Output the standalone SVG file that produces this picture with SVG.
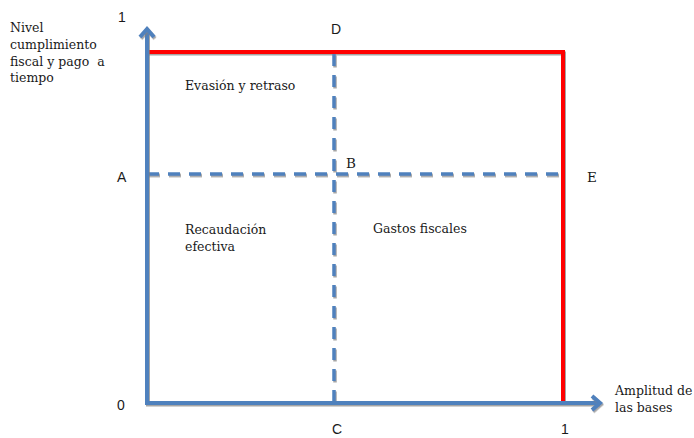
<svg xmlns="http://www.w3.org/2000/svg" width="694" height="438" viewBox="0 0 694 438">
  <defs>
    <filter id="sh" filterUnits="userSpaceOnUse" x="0" y="0" width="694" height="438">
      <feDropShadow dx="1" dy="1.5" stdDeviation="0.4" flood-color="#7f7f7f" flood-opacity="0.7"/>
    </filter>
  </defs>
  <style>
    .lbl { font-family: "DejaVu Serif", "Liberation Serif", serif; font-size: 12.5px; fill: #1a1a1a; }
    .ltr { font-family: "DejaVu Serif", "Liberation Serif", serif; font-size: 13.5px; fill: #1a1a1a; }
    .num { font-family: "Liberation Sans", "Open Sans", sans-serif; font-size: 14px; fill: #1a1a1a; }
    .axis { fill: none; stroke: #4F81BD; stroke-width: 4; stroke-linejoin: miter; filter: url(#sh); }
    .dash { fill: none; stroke: #4F81BD; stroke-width: 3.5; stroke-dasharray: 12 9; filter: url(#sh); }
    .frontier { fill: none; stroke: #FF0000; stroke-width: 4; filter: url(#sh); }
  </style>
  <rect width="694" height="438" fill="#ffffff"/>

  <g id="connectors">
    <path id="frontier" class="frontier" d="M147,52 H563 V403"/>
    <line id="dash-vertical" class="dash" x1="334" y1="54" x2="334" y2="403"/>
    <line id="dash-horizontal" class="dash" x1="147" y1="174" x2="563" y2="174"/>
    <g id="y-axis">
      <line class="axis" x1="147" y1="403" x2="147" y2="30"/>
      <polyline class="axis" points="140,37 147,29 154,37"/>
    </g>
    <g id="x-axis">
      <line class="axis" x1="145" y1="403" x2="599" y2="403"/>
      <polyline class="axis" points="592,396 600,403 592,410"/>
    </g>
  </g>

  <g id="y-axis-title">
    <text class="lbl" x="10" y="32">Nivel</text>
    <text class="lbl" x="10" y="49">cumplimiento</text>
    <text class="lbl" x="10" y="66" xml:space="preserve">fiscal y pago  a</text>
    <text class="lbl" x="10" y="82">tiempo</text>
  </g>
  <g id="x-axis-title">
    <text class="lbl" x="615" y="395">Amplitud de</text>
    <text class="lbl" x="615" y="412">las bases</text>
  </g>

  <g id="tick-y1"><text class="num" x="118" y="22">1</text></g>
  <g id="tick-A"><text class="num" x="117" y="182">A</text></g>
  <g id="tick-0"><text class="num" x="117" y="410">0</text></g>
  <g id="tick-C"><text class="num" x="332" y="434">C</text></g>
  <g id="tick-x1"><text class="num" x="561" y="434">1</text></g>
  <g id="point-D"><text class="num" x="331" y="34">D</text></g>
  <g id="point-B"><text class="ltr" x="346" y="168">B</text></g>
  <g id="point-E"><text class="ltr" x="587" y="182">E</text></g>

  <g id="region-evasion"><text class="lbl" x="185" y="90">Evasión y retraso</text></g>
  <g id="region-recaudacion">
    <text class="lbl" x="185" y="234">Recaudación</text>
    <text class="lbl" x="185" y="251">efectiva</text>
  </g>
  <g id="region-gastos"><text class="lbl" x="373" y="233">Gastos fiscales</text></g>
</svg>
